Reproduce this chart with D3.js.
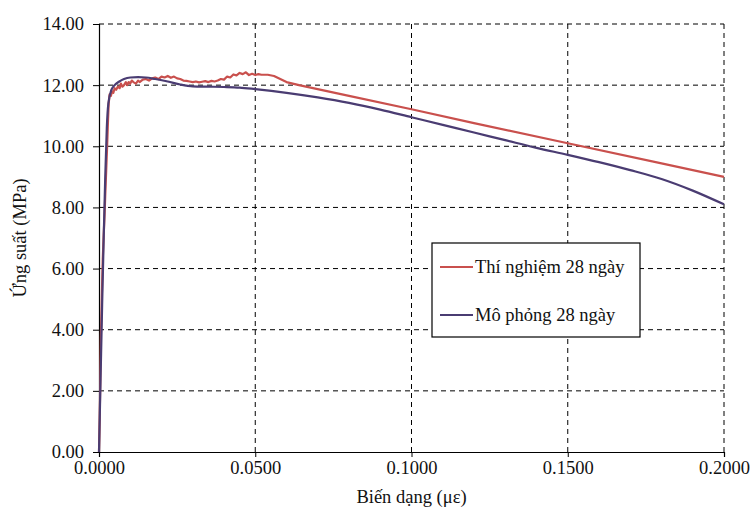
<!DOCTYPE html>
<html>
<head>
<meta charset="utf-8">
<script src="https://cdn.jsdelivr.net/npm/d3@7"></script>
<style>
  body { margin: 0; background: #fff; }
  svg { display: block; }
</style>
</head>
<body>
<svg id="chart"></svg>
<script>
// experimental curve (noisy)
const testStrain = [0, 0.0002, 0.0004, 0.0006, 0.0008, 0.0010, 0.0012, 0.0015, 0.0018, 0.0020, 0.0023, 0.0026, 0.0029, 0.0031, 0.0034,
  0.0038, 0.0042, 0.0046, 0.0050, 0.0055, 0.0060, 0.0066, 0.0070, 0.0075, 0.0080, 0.0086, 0.0090, 0.0095, 0.0100, 0.0105, 0.0110,
  0.0118, 0.0125, 0.0130, 0.0140, 0.0150, 0.0160, 0.0170, 0.0180, 0.0190, 0.0200, 0.0210, 0.0220, 0.0230, 0.0240, 0.0250,
  0.0260, 0.0270, 0.0280, 0.0290, 0.0300, 0.0310, 0.0320, 0.0330, 0.0340, 0.0350, 0.0360, 0.0370, 0.0380, 0.0390, 0.0400,
  0.0410, 0.0420, 0.0430, 0.0440, 0.0450, 0.0460, 0.0470, 0.0480, 0.0490, 0.0500, 0.0510, 0.0520, 0.0540, 0.0560, 0.0580,
  0.0600, 0.0640, 0.0800, 0.1000, 0.1200, 0.1500, 0.1800, 0.2000]
const testStress = [0, 1.0, 2.3, 3.8, 4.6, 5.5, 6.3, 7.1, 7.8, 8.4, 9.2, 10.0, 10.9, 11.4, 11.7,
  11.65, 11.8, 11.75, 11.9, 11.85, 11.95, 11.9, 12.05, 11.95, 12.0, 12.1, 12.0, 12.1, 12.05, 12.15, 12.1,
  12.05, 12.15, 12.1, 12.18, 12.2, 12.15, 12.22, 12.25, 12.2, 12.28, 12.25, 12.3, 12.24, 12.28, 12.22,
  12.2, 12.15, 12.14, 12.12, 12.1, 12.12, 12.09, 12.11, 12.13, 12.1, 12.14, 12.12, 12.15, 12.2, 12.18,
  12.28, 12.25, 12.35, 12.32, 12.4, 12.36, 12.42, 12.33, 12.37, 12.33, 12.36, 12.34, 12.34, 12.3, 12.2,
  12.1, 12.0, 11.65, 11.21, 10.76, 10.1, 9.44, 9.0]

// simulation curve (smooth)
const simStrain = [0, 0.0005, 0.0010, 0.0015, 0.0020, 0.0025, 0.0030, 0.0040, 0.0050, 0.0065, 0.0080, 0.0100, 0.0125, 0.0150,
  0.0180, 0.0220, 0.0260, 0.0300, 0.0350, 0.0400, 0.0450, 0.0500, 0.0600, 0.0700, 0.0800, 0.0900, 0.1000, 0.1100,
  0.1200, 0.1300, 0.1400, 0.1500, 0.1600, 0.1700, 0.1800, 0.1900, 0.2000]
const simStress = [0, 2.4, 4.8, 7.0, 9.0, 10.6, 11.4, 11.85, 12.0, 12.12, 12.2, 12.25, 12.26, 12.25,
  12.2, 12.12, 12.02, 11.96, 11.95, 11.94, 11.92, 11.87, 11.75, 11.6, 11.42, 11.2, 10.95, 10.7,
  10.45, 10.2, 9.95, 9.72, 9.48, 9.22, 8.93, 8.55, 8.1]

const xTicks = [0, 0.05, 0.1, 0.15, 0.2]
const yTicks = [0, 2, 4, 6, 8, 10, 12, 14]
const seriesNames = ['Thí nghiệm 28 ngày', 'Mô phỏng 28 ngày']
const seriesColors = ['#c9504d', '#4a3c72']

const width = 752
const height = 508
const margin = { top: 24, right: 28, bottom: 56, left: 99 }
const fontFamily = 'Liberation Serif, Tinos, Times New Roman, serif'
const fontSize = 18.5

const svg = d3.select('#chart')
  .attr('width', width)
  .attr('height', height)
  .attr('font-family', fontFamily)
  .attr('font-size', fontSize)

const x = d3.scaleLinear().domain([0, 0.2]).range([margin.left, width - margin.right])
const y = d3.scaleLinear().domain([0, 14]).range([height - margin.bottom, margin.top])

// dashed grid
svg.append('g')
  .selectAll('line')
  .data(yTicks.slice(1))
  .enter().append('line')
  .attr('x1', x(0)).attr('x2', x(0.2))
  .attr('y1', d => y(d)).attr('y2', d => y(d))
  .attr('stroke', '#000').attr('stroke-width', 1).attr('stroke-dasharray', '5,4')

svg.append('g')
  .selectAll('line')
  .data(xTicks.slice(1))
  .enter().append('line')
  .attr('x1', d => x(d)).attr('x2', d => x(d))
  .attr('y1', y(0)).attr('y2', y(14))
  .attr('stroke', '#000').attr('stroke-width', 1).attr('stroke-dasharray', '5,4')

// axes
const yAxis = svg.append('g')
  .attr('transform', `translate(${x(0)},0)`)
  .call(d3.axisLeft(y).tickValues(yTicks).tickFormat(d3.format('.2f')).tickSize(6).tickPadding(9))
const xAxis = svg.append('g')
  .attr('transform', `translate(0,${y(0)})`)
  .call(d3.axisBottom(x).tickValues(xTicks).tickFormat(d3.format('.4f')).tickSize(5).tickPadding(4))

;[xAxis, yAxis].forEach(a => {
  a.attr('font-family', fontFamily).attr('font-size', fontSize)
  a.select('.domain').attr('stroke', '#000').attr('stroke-width', 1.2)
  a.selectAll('.tick line').attr('stroke', '#000')
  a.selectAll('.tick text')
    .attr('fill', '#111')
    .attr('font-family', fontFamily)
    .attr('font-size', fontSize)
})

// curves
const line = d3.line()
  .x(d => x(d[0]))
  .y(d => y(d[1]))

svg.append('path')
  .datum(d3.zip(testStrain, testStress))
  .attr('d', line)
  .attr('fill', 'none')
  .attr('stroke', seriesColors[0])
  .attr('stroke-width', 2.2)
  .attr('stroke-linejoin', 'round')

svg.append('path')
  .datum(d3.zip(simStrain, simStress))
  .attr('d', line.curve(d3.curveMonotoneX))
  .attr('fill', 'none')
  .attr('stroke', seriesColors[1])
  .attr('stroke-width', 2.2)

// axis titles
svg.append('text')
  .attr('x', (x(0) + x(0.2)) / 2)
  .attr('y', 503)
  .attr('text-anchor', 'middle')
  .attr('font-family', fontFamily)
  .attr('font-size', fontSize)
  .attr('fill', '#111')
  .text('Biến dạng (με)')

svg.append('text')
  .attr('transform', `translate(26,${(y(0) + y(14)) / 2}) rotate(-90)`)
  .attr('text-anchor', 'middle')
  .attr('font-family', fontFamily)
  .attr('font-size', fontSize)
  .attr('fill', '#111')
  .text('Ứng suất (MPa)')

// legend
const legend = svg.append('g').attr('transform', 'translate(432,243)')
legend.append('rect')
  .attr('width', 208).attr('height', 94)
  .attr('fill', '#fff').attr('stroke', '#000').attr('stroke-width', 1.2)

const items = legend.selectAll('.item')
  .data(seriesNames)
  .enter().append('g')
  .attr('class', 'item')
  .attr('transform', (d, i) => `translate(0,${24 + i * 48})`)

items.append('line')
  .attr('x1', 8).attr('x2', 41)
  .attr('stroke', (d, i) => seriesColors[i])
  .attr('stroke-width', 2.2)

items.append('text')
  .attr('x', 43)
  .attr('dy', '0.35em')
  .attr('font-family', fontFamily)
  .attr('font-size', fontSize)
  .attr('fill', '#111')
  .text(d => d)
</script>
</body>
</html>
